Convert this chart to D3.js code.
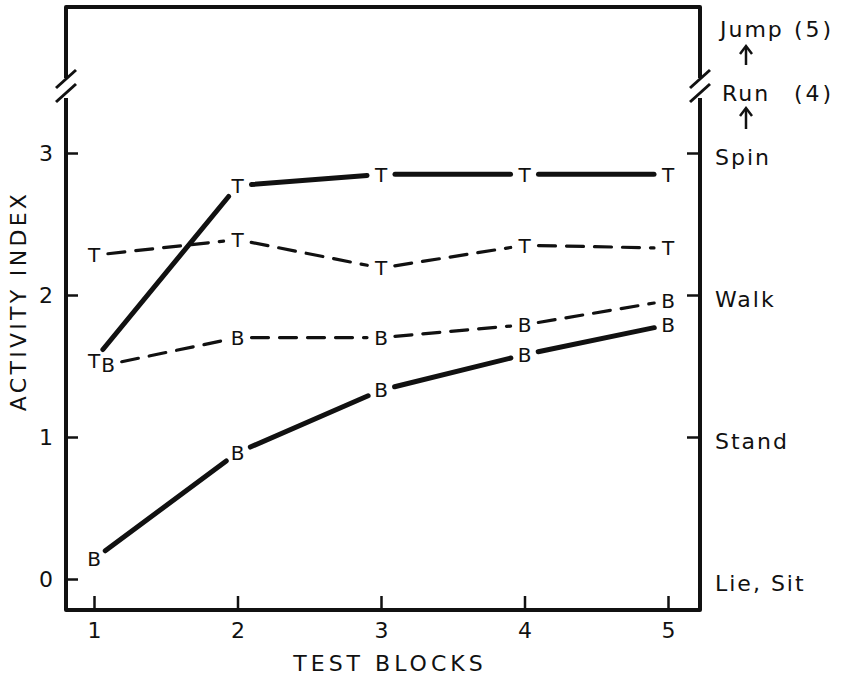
<!DOCTYPE html>
<html>
<head>
<meta charset="utf-8">
<script src="https://cdn.jsdelivr.net/npm/d3@7"></script>
<style>
  html, body { margin: 0; padding: 0; background: #fff; }
  svg { display: block; }
  text { font-family: "DejaVu Sans", sans-serif; fill: #111; }
</style>
</head>
<body>
<svg id="chart" width="846" height="677"></svg>
<script>
// Test blocks on the x axis
const blocks = [1, 2, 3, 4, 5];

// Activity index per block, one array per curve
const tSolid  = [1.54, 2.77, 2.85, 2.85, 2.85];
const tDashed = [2.28, 2.39, 2.19, 2.35, 2.33];
const bDashed = [1.51, 1.70, 1.70, 1.79, 1.96];
const bSolid  = [0.14, 0.89, 1.33, 1.58, 1.79];

// Axis ticks and activity names
const yTicks = [0, 1, 2, 3];
const rightTicks = [1, 2, 3];
const activityNames = ["Lie, Sit", "Stand", "Walk", "Spin"];
const activityLevels = [0, 1, 2, 3];
const upperNames = ["Run", "Jump"];
const upperLevels = [4, 5];

const series = [
  { letter: "T", values: tSolid,  dashed: false },
  { letter: "T", values: tDashed, dashed: true },
  { letter: "B", values: bDashed, dashed: true },
  { letter: "B", values: bSolid,  dashed: false }
];

const svg = d3.select("#chart");
const frameL = 66, frameR = 700, frameT = 7, frameB = 610;
const breakTop = 78, breakBottom = 98;

const x = d3.scaleLinear().domain([1, 5]).range([94, 668]);
const y = d3.scaleLinear().domain([0, 3]).range([579, 153]);
const yUpper = d3.scaleLinear().domain([4, 5]).range([93, 29]);

const ink = "#111";

// Frame with broken vertical axes
const frame = svg.append("g")
  .attr("fill", "none").attr("stroke", ink).attr("stroke-width", 4)
  .attr("stroke-linejoin", "round").attr("stroke-linecap", "butt");
frame.append("path").attr("d",
  `M${frameL},${breakTop} L${frameL},${frameT} L${frameR},${frameT} L${frameR},${breakTop}`);
frame.append("path").attr("d",
  `M${frameL},${breakBottom} L${frameL},${frameB} L${frameR},${frameB} L${frameR},${breakBottom}`);

// Break marks (double slashes)
const breaks = svg.append("g").attr("stroke", ink).attr("stroke-width", 3).attr("stroke-linecap", "butt");
[frameL, frameR].forEach(cx => {
  breaks.append("line").attr("x1", cx - 10).attr("y1", breakTop + 10).attr("x2", cx + 10).attr("y2", breakTop - 8);
  breaks.append("line").attr("x1", cx - 10).attr("y1", breakBottom + 4).attr("x2", cx + 10).attr("y2", breakBottom - 14);
});

// Left axis: inward ticks
const yAxis = d3.axisLeft(y).tickValues(yTicks).tickSize(-12).tickPadding(12)
  .tickFormat(d3.format("d"));
const gy = svg.append("g").attr("transform", `translate(${frameL},0)`).call(yAxis);
gy.select(".domain").remove();
gy.selectAll(".tick line").attr("stroke", ink).attr("stroke-width", 2.5);
gy.selectAll(".tick text").attr("font-size", 22).attr("fill", ink)
  .attr("text-anchor", "middle").attr("x", -20).attr("dy", "0.36em");

// Right axis: inward ticks, activity names as labels
const gr = svg.append("g").attr("transform", `translate(${frameR},0)`)
  .call(d3.axisRight(y).tickValues(rightTicks).tickSize(-13).tickFormat(""));
gr.select(".domain").remove();
gr.selectAll(".tick line").attr("stroke", ink).attr("stroke-width", 2.5);

svg.append("g").selectAll("text")
  .data(activityNames)
  .join("text")
  .attr("x", 715)
  .attr("y", (d, i) => y(activityLevels[i]) + 4)
  .attr("dy", "0.36em")
  .attr("font-size", 22)
  .attr("letter-spacing", 2)
  .text(d => d);

// Names above the break
svg.append("g").selectAll("text")
  .data(upperNames)
  .join("text")
  .attr("x", (d, i) => i === 0 ? 722 : 720)
  .attr("y", (d, i) => yUpper(upperLevels[i]))
  .attr("dy", "0.36em")
  .attr("font-size", 22)
  .attr("letter-spacing", 2)
  .text(d => d);
svg.append("g").selectAll("text")
  .data(upperLevels)
  .join("text")
  .attr("x", 794)
  .attr("y", d => yUpper(d))
  .attr("dy", "0.36em")
  .attr("font-size", 22)
  .attr("letter-spacing", 3)
  .text(d => `(${d})`);

// Upward arrows between names
const arrows = svg.append("g").attr("stroke", ink).attr("stroke-width", 2.5).attr("fill", "none");
[[46, 65], [108, 129]].forEach(([y0, y1]) => {
  arrows.append("line").attr("x1", 746).attr("x2", 746).attr("y1", y0 + 2).attr("y2", y1);
  arrows.append("path").attr("d", `M${740},${y0 + 8} L746,${y0} L752,${y0 + 8}`)
    .attr("stroke-linejoin", "miter");
});

// Bottom axis: inward ticks
const xAxis = d3.axisBottom(x).tickValues(blocks).tickSize(-14).tickPadding(22)
  .tickFormat(d3.format("d"));
const gx = svg.append("g").attr("transform", `translate(0,${frameB})`).call(xAxis);
gx.select(".domain").remove();
gx.selectAll(".tick line").attr("stroke", ink).attr("stroke-width", 2.5);
gx.selectAll(".tick text").attr("font-size", 22).attr("fill", ink).attr("y", 20).attr("dy", "0.36em");

// Axis titles
svg.append("text")
  .attr("x", 390).attr("y", 663).attr("dy", "0.36em")
  .attr("text-anchor", "middle").attr("font-size", 22).attr("letter-spacing", 4)
  .text("TEST BLOCKS");
svg.append("text")
  .attr("transform", "translate(18,301) rotate(-90)")
  .attr("dy", "0.36em")
  .attr("text-anchor", "middle").attr("font-size", 22).attr("letter-spacing", 3.3)
  .text("ACTIVITY INDEX");

// Curves: letters at each block, joined by segments that stop short of the letters
const gap = 14;
const plot = svg.append("g");
series.forEach((s, si) => {
  const pts = s.values.map((v, i) => {
    // the two letters overlapping at block 1 are set side by side
    const shift = (si === 2 && i === 0) ? 14 : 0;
    return [x(blocks[i]) + shift, y(v)];
  });
  const segs = d3.pairs(pts).map(([a, b]) => {
    const dx = b[0] - a[0], dy = b[1] - a[1];
    const len = Math.hypot(dx, dy);
    const ux = dx / len, uy = dy / len;
    return [[a[0] + ux * gap, a[1] + uy * gap], [b[0] - ux * gap, b[1] - uy * gap]];
  });
  plot.append("g").selectAll("path")
    .data(segs)
    .join("path")
    .attr("d", d => d3.line()(d))
    .attr("fill", "none")
    .attr("stroke", ink)
    .attr("stroke-width", s.dashed ? 3.2 : 5)
    .attr("stroke-dasharray", s.dashed ? "17,11" : null)
    .attr("stroke-linecap", "round");
  plot.append("g").selectAll("text")
    .data(pts)
    .join("text")
    .attr("x", d => d[0])
    .attr("y", d => d[1])
    .attr("dy", "0.36em")
    .attr("text-anchor", "middle")
    .attr("font-size", 20)
    .text(s.letter);
});
</script>
</body>
</html>
